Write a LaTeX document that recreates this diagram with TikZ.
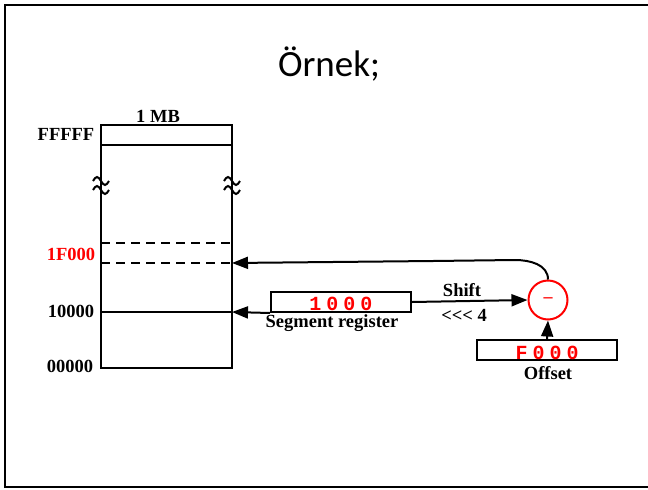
\documentclass[tikz,border=0pt]{standalone}
\usepackage{fontspec}
\setmainfont{Liberation Serif}
\newfontfamily\titlefont{Carlito}
\newfontfamily\regfont{Liberation Mono}
\usetikzlibrary{arrows.meta}
\begin{document}
\begin{tikzpicture}[x=1pt,y=-1pt,line width=2pt,
  lbl/.style={font=\fontsize{18.5}{18.5}\selectfont\bfseries,inner sep=0pt},
  redlbl/.style={font=\regfont\bfseries\fontsize{20}{20}\selectfont\addfontfeature{LetterSpace=25},text=red,inner sep=0pt,text depth=0pt},
  regbox/.style={draw,line width=2pt,inner sep=0pt,minimum height=20pt},
  arr/.style={-{Triangle[length=16pt,width=12pt]}},
  squig/.pic={\draw[line width=2pt] (-8,-3) sin (-4,-7) cos (0,-3) sin (4,1) cos (8,-3);
              \draw[line width=2pt] (-8,6) sin (-4,2) cos (0,6) sin (4,10) cos (8,6);}
]
\useasboundingbox (0,0) rectangle (648,490);
% frame
\draw[line width=2pt] (652,5) -- (5,5) -- (5,487) -- (652,487);
% title
\node[font=\titlefont\fontsize{37}{37}\selectfont,anchor=base,inner sep=0pt] (title) at (329,76) {Örnek;};
% memory
\node[draw,line width=2pt,inner sep=0pt,minimum width=131pt,minimum height=243pt] (mem) at (166.5,246.5) {};
\coordinate (mtl) at (101,145); \coordinate (mtr) at (232,145);
\coordinate (mdl1) at (101,243); \coordinate (mdr1) at (232,243);
\coordinate (mdl2) at (101,263); \coordinate (mdr2) at (232,263);
\coordinate (msl) at (101,312); \coordinate (msr) at (232,312);
\draw (mtl) -- (mtr);
\draw[dash pattern=on 9pt off 6pt] (mdl1) -- (mdr1);
\draw[dash pattern=on 9pt off 6pt] (mdl2) -- (mdr2);
\draw (msl) -- (msr);
\pic at (101,184) {squig};
\pic at (232,184) {squig};
% memory labels
\node[lbl] (mb) at (158,116) {1 MB};
\node[lbl] (fffff) at (66,134) {FFFFF};
\node[lbl,text=red] (f1000) at (71,254) {1F000};
\node[lbl] (t10000) at (71,311) {10000};
\node[lbl] (zero) at (70,366) {00000};
% segment register
\node[regbox,minimum width=140pt] (seg) at (341,302) {};
\node[redlbl,anchor=base] (segval) at (341,310) {1000};
\node[lbl] (segname) at (332,323) {Segment register};
% subtractor
\node[draw=red,circle,line width=2pt,minimum size=39pt,inner sep=0pt] (sub) at (548,300) {};
\node[text=red,font=\fontsize{18}{18}\selectfont\bfseries,inner sep=0pt] (minus) at (548,300) {–};
% offset
\node[regbox,minimum width=140pt] (off) at (547,350) {};
\node[redlbl,anchor=base] (offval) at (547,359) {F000};
\node[lbl] (offname) at (548,373) {Offset};
% shift labels
\node[lbl] (shift) at (462,290) {Shift};
\node[lbl] (shl) at (464,315) {<{}<{}< 4};
% connectors
\draw[arr] (seg.south west) -- (msr);
\draw[arr] (seg.east) -- (sub.west);
\draw[arr] (off.north) -- (sub.south);
\draw[arr] (sub.north) to[out=90,in=0] (515,260) -- (433,261) -- (mdr2);
\end{tikzpicture}
\end{document}
